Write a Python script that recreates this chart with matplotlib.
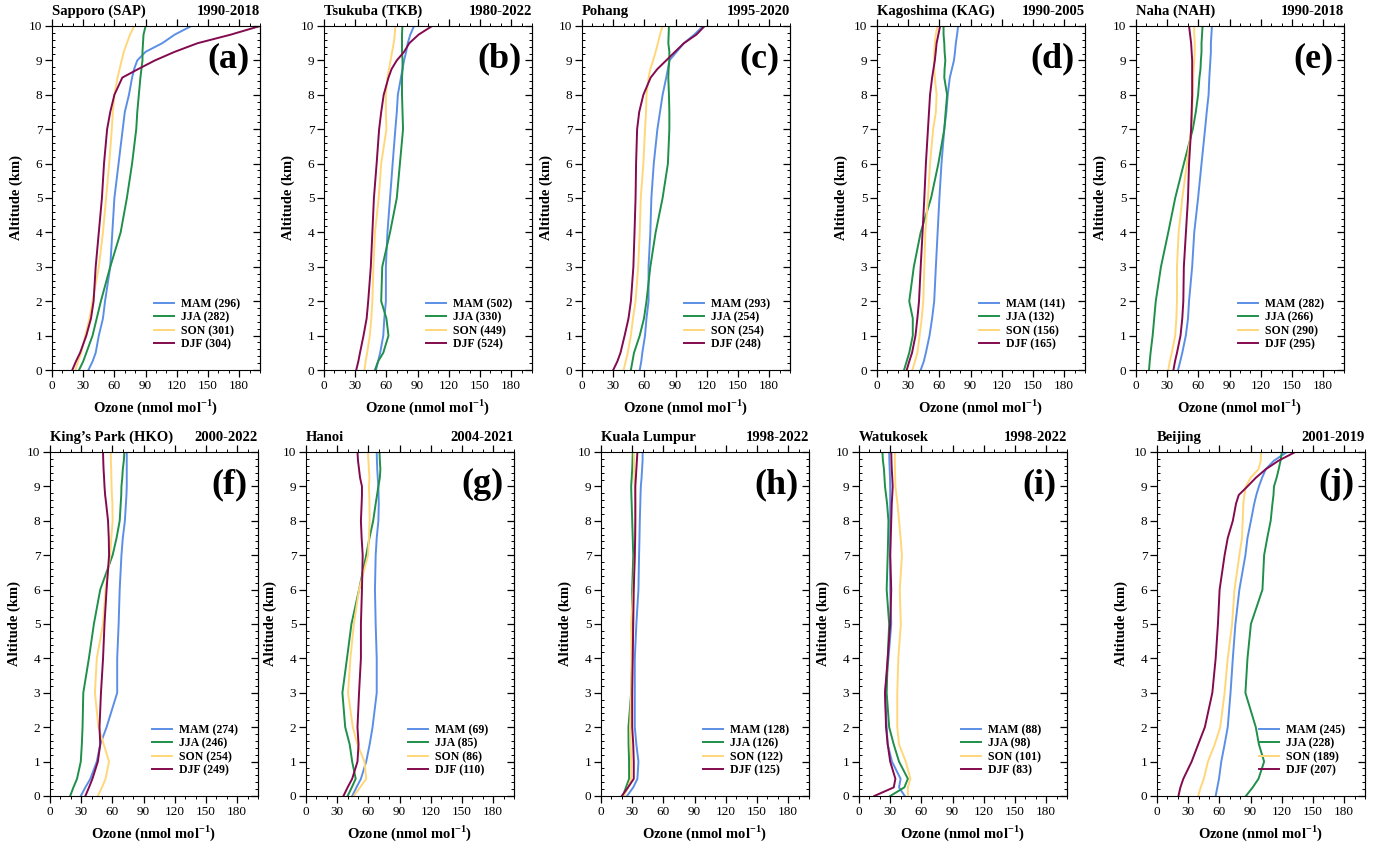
import matplotlib.pyplot as plt
from matplotlib.ticker import MultipleLocator, NullFormatter

plt.rcParams["font.family"] = ["Liberation Serif", "DejaVu Serif"]
plt.rcParams["mathtext.fontset"] = "custom"
plt.rcParams["mathtext.rm"] = "Liberation Serif"
plt.rcParams["mathtext.bf"] = "Liberation Serif:bold"

# altitude levels (km) at which profiles were read
ALT = [0, 0.25, 0.5, 1, 1.5, 2, 3, 4, 5, 6, 7, 7.5, 8, 8.5, 8.75, 9, 9.25, 9.5, 9.75, 10]

SEASONS = ["MAM", "JJA", "SON", "DJF"]
COLORS = ["#5B8FE6", "#1F8F4A", "#FFD77A", "#830A4E"]

# (a) Sapporo
sap_mam = [35, 39, 42, 45, 49, 51, 56, 58, 60, 64, 68, 70, 74, 77, 79, 82, 90, 106, 118, 134]
sap_jja = [26, 30, 33, 39, 43, 47, 56, 66, 72, 77, 81, 82, 83.5, 85, 86, 87, 87, 87.5, 88, 90]
sap_son = [22.5, 25, 28, 32, 36, 39, 45, 49, 52, 55, 57.5, 58.5, 60, 63, 65, 67, 69, 72, 75, 79]
sap_djf = [19.5, 23, 27, 33, 37.5, 40, 42, 45, 48, 50, 53, 56, 60, 67.6, 83, 99, 118, 140, 172, 200]
sap_n = [296, 282, 301, 304]

# (b) Tsukuba
tkb_mam = [50, 52, 54, 57, 58, 59.5, 59.5, 61, 63.5, 66, 68.6, 70, 71, 74, 75.5, 77, 79, 80.5, 83, 86.6]
tkb_jja = [49, 52, 57, 62, 60, 55, 56, 63.5, 70, 73, 76, 75.5, 75, 75, 75.5, 75.5, 75, 75, 75, 75.4]
tkb_son = [39, 40, 41.5, 44, 45.5, 46.5, 47.5, 49, 52.6, 55, 60, 59.5, 59.5, 61, 62.5, 64, 65.5, 67, 68, 68.6]
tkb_djf = [31, 33, 34.6, 38, 41, 42.5, 45, 46.5, 48, 50.6, 53, 55, 57.4, 62, 65, 70, 77, 82, 91, 104]
tkb_n = [502, 330, 449, 524]

# (c) Pohang
poh_mam = [55.5, 57, 58, 60.6, 62, 64, 64, 65.7, 66.7, 69, 72.5, 75, 77.5, 81, 82.6, 84, 91, 98, 108, 116.5]
poh_jja = [47, 48.5, 50, 55.5, 59.6, 62, 65.7, 70.8, 77.5, 82.6, 84, 84, 83.6, 83, 83.3, 84, 84, 83, 83.3, 83.6]
poh_son = [40, 42, 44, 47, 49, 51.5, 54, 55.5, 56.5, 59, 60.6, 61.6, 62, 64, 65.7, 68.4, 70.8, 73, 75, 77.5]
poh_djf = [30, 34, 37, 41, 44.7, 47, 49.4, 50.5, 51.5, 52, 53, 55, 59, 66, 72.5, 81, 89.4, 98, 110, 118]
poh_n = [293, 254, 254, 248]

# (d) Kagoshima
kag_mam = [42, 45, 47, 50.5, 53, 55, 56.6, 58.3, 60, 62, 64.7, 66.7, 68, 70, 72, 74, 75, 75.8, 77, 78]
kag_jja = [26, 28.5, 31, 34.4, 34.4, 31, 35.4, 42, 52, 59, 64.7, 66, 67.4, 64.7, 65, 65.7, 65, 64.7, 64, 64]
kag_son = [34, 36.5, 38.8, 41, 43, 44.5, 45.5, 46.5, 49, 51, 54, 56.6, 57.3, 55.6, 55, 55, 55, 55.6, 56.5, 58.3]
kag_djf = [28.6, 31, 33.7, 37, 38.8, 40.4, 42, 43.8, 45.5, 47, 49, 50, 51, 53, 54.3, 55.6, 56.5, 57.3, 59, 60.7]
kag_n = [141, 132, 156, 165]

# (e) Naha
nah_mam = [40.4, 42.5, 44.5, 47.9, 50, 51, 54, 56, 59.7, 63, 66.4, 68, 69.8, 70.5, 71, 71.5, 72, 72, 72.5, 73]
nah_jja = [12.5, 13.2, 14, 16, 17.5, 19, 24, 31, 37.7, 46, 54.6, 57.5, 59.7, 61, 62, 62.4, 63, 63, 63.5, 64]
nah_son = [31, 32.5, 34.4, 37.7, 38.8, 39.4, 39.4, 41, 44.5, 49, 53, 54, 54.6, 55, 55.5, 56, 56.5, 56.5, 56, 56]
nah_djf = [36, 37.5, 39.4, 42.8, 44.5, 45.5, 46, 48, 50, 51, 53, 53.5, 54, 54, 54, 54, 53.5, 53, 52, 51]
nah_n = [282, 266, 290, 295]

# (f) King's Park
hko_mam = [29.6, 34, 38.8, 45, 48.3, 54.4, 64.6, 64.6, 66, 67, 68.7, 70, 72, 73, 73.5, 73.8, 73.8, 73.8, 73.8, 73.8]
hko_jja = [19.4, 22.5, 26, 29.6, 30.6, 31.3, 32, 37.4, 42.2, 48.3, 60.2, 64, 67, 68, 68.5, 68.7, 69.5, 70, 71, 71.5]
hko_son = [46, 50, 53.4, 56.8, 51.7, 46.6, 43.2, 45, 51, 53.4, 57.8, 59, 60.2, 60, 59.5, 59.2, 59, 58.8, 58.5, 58.5]
hko_djf = [34, 37.5, 40.8, 46, 48.3, 47.6, 49, 51, 52.4, 54.4, 56.8, 56.5, 55.8, 54, 53, 52.4, 52, 51.5, 51.2, 51]
hko_n = [274, 246, 254, 249]

# (g) Hanoi
han_mam = [44.4, 48.5, 52.8, 57.9, 61.2, 64, 68, 68, 67, 66.3, 67, 68, 69.6, 70, 69.8, 69.6, 69, 68.5, 68.2, 68]
han_jja = [40, 44, 47.8, 44.4, 42, 37.7, 35, 39.4, 43.7, 51, 57.9, 61, 64.6, 67, 68.3, 69.6, 71, 71.5, 71, 70.7]
han_son = [46, 52, 57.9, 56.2, 49.5, 45, 40.4, 42.7, 46, 51, 59.6, 60.5, 61.2, 61, 60.8, 60.5, 61, 60.5, 60, 59.6]
han_djf = [36, 40, 44.4, 49.5, 50.5, 49.5, 51, 52.8, 52.8, 53.8, 54.5, 53.5, 52.8, 53.5, 53.8, 53.8, 52, 51, 50, 49.5]
han_n = [69, 85, 86, 110]

# (h) Kuala Lumpur
kul_mam = [25, 31, 35, 36, 34, 32.5, 32.5, 32.5, 34, 36, 36.6, 37, 37.3, 37.8, 38, 38.3, 39, 39.5, 40, 40]
kul_jja = [21, 24, 27, 27, 26.5, 26.4, 29, 30, 30, 30, 31, 30.5, 30, 29.5, 29.2, 29, 29.5, 30, 30.3, 30.5]
kul_son = [22, 26, 29, 29, 28.5, 28, 29, 29.5, 29, 31, 32.5, 33, 33, 33, 32.8, 32.5, 32, 32, 31.8, 31.5]
kul_djf = [20, 26, 31.5, 31.5, 31, 30, 30, 30.5, 31, 31.5, 32.5, 32.8, 33, 33, 33, 33, 33.5, 34, 34.5, 35]
kul_n = [128, 126, 122, 125]

# (i) Watukosek
wat_mam = [44, 38.5, 40, 31.7, 27.6, 26.6, 25, 28.3, 31, 30, 30, 30, 30, 30, 30, 30, 29.8, 29.5, 29.2, 29]
wat_jja = [30, 43.6, 47, 38.5, 33.4, 29, 26.6, 27.6, 29, 26.6, 27.6, 28, 28.3, 27, 26, 25, 24.5, 24, 23, 22.5]
wat_son = [47, 47, 49.4, 45, 38.5, 36.8, 36.8, 37.8, 40.2, 39.2, 41.3, 40, 38.5, 37, 36, 35, 34.8, 34.6, 34.5, 34.4]
wat_djf = [14.7, 33.4, 35, 30, 27.6, 26, 25, 27.6, 30, 31, 30, 30.5, 31, 31.5, 32, 32.4, 32, 31.5, 31.2, 31]
wat_n = [88, 98, 101, 83]

# (j) Beijing
bej_mam = [56.4, 58, 59.6, 61.8, 65, 68, 70.7, 72.9, 75.4, 79.2, 85, 87, 90.3, 93.5, 95.5, 98, 101, 104.6, 112.5, 125]
bej_jja = [85.5, 92, 97.6, 103, 98, 95, 85, 87, 90.3, 101.4, 103, 106, 109.3, 111, 112, 112.5, 115, 117, 118.8, 120]
bej_son = [39.6, 42, 45, 49, 55.5, 60.8, 65, 68, 72.2, 74.5, 79.2, 81.7, 82.4, 83, 84, 85.5, 90, 97.6, 99.8, 100]
bej_djf = [20.6, 22.5, 25.3, 33.3, 39.6, 46, 53.2, 56.4, 58.6, 60.2, 65, 68, 72.9, 76, 78.6, 87, 95, 104.6, 117, 133]
bej_n = [245, 228, 189, 207]

STATIONS = ["Sapporo (SAP)", "Tsukuba (TKB)", "Pohang", "Kagoshima (KAG)", "Naha (NAH)",
            "King\u2019s Park (HKO)", "Hanoi", "Kuala Lumpur", "Watukosek", "Beijing"]
PERIODS = ["1990-2018", "1980-2022", "1995-2020", "1990-2005", "1990-2018",
           "2000-2022", "2004-2021", "1998-2022", "1998-2022", "2001-2019"]
LETTERS = ["(a)", "(b)", "(c)", "(d)", "(e)", "(f)", "(g)", "(h)", "(i)", "(j)"]

PROFILES = [
    [sap_mam, sap_jja, sap_son, sap_djf],
    [tkb_mam, tkb_jja, tkb_son, tkb_djf],
    [poh_mam, poh_jja, poh_son, poh_djf],
    [kag_mam, kag_jja, kag_son, kag_djf],
    [nah_mam, nah_jja, nah_son, nah_djf],
    [hko_mam, hko_jja, hko_son, hko_djf],
    [han_mam, han_jja, han_son, han_djf],
    [kul_mam, kul_jja, kul_son, kul_djf],
    [wat_mam, wat_jja, wat_son, wat_djf],
    [bej_mam, bej_jja, bej_son, bej_djf],
]
COUNTS = [sap_n, tkb_n, poh_n, kag_n, nah_n, hko_n, han_n, kul_n, wat_n, bej_n]

W, H = 1376, 848
LEFTS = [52, 324, 582, 877, 1136, 50, 306, 601, 859, 1157]
TOPS = [26] * 5 + [452] * 5
AX_W, AX_H = 208, 344


def draw_panel(ax, i):
    for prof, season, n, color in zip(PROFILES[i], SEASONS, COUNTS[i], COLORS):
        ax.plot(prof, ALT, color=color, lw=1.4, label=f"{season} ({n})")
    ax.set_xlim(0, 200)
    ax.set_ylim(0, 10)
    ax.set_xticks(range(0, 181, 30))
    ax.xaxis.set_minor_locator(MultipleLocator(10))
    ax.yaxis.set_major_locator(MultipleLocator(1))
    ax.yaxis.set_minor_locator(MultipleLocator(0.2))
    ax.tick_params(axis="x", which="both", direction="out", top=True, labelsize=9.5, pad=2)
    ax.tick_params(axis="x", which="major", length=5, width=0.9)
    ax.tick_params(axis="x", which="minor", length=2.5, width=0.7)
    ax.tick_params(axis="y", which="major", direction="out", length=5, width=0.9,
                   right=False, labelsize=9.5, pad=2)
    ax.tick_params(axis="y", which="minor", direction="in", length=2.5, width=0.7, right=False)

    # right-hand ticks all point inward
    sec = ax.secondary_yaxis("right")
    sec.yaxis.set_major_locator(MultipleLocator(1))
    sec.yaxis.set_minor_locator(MultipleLocator(0.2))
    sec.yaxis.set_major_formatter(NullFormatter())
    sec.tick_params(which="both", direction="in")
    sec.tick_params(which="major", length=5, width=0.9)
    sec.tick_params(which="minor", length=2.5, width=0.7)

    ax.set_xlabel(r"Ozone (nmol mol$^{\mathbf{-1}}$)", fontsize=10.5, fontweight="bold", labelpad=4)
    ax.set_ylabel("Altitude (km)", fontsize=10.5, fontweight="bold", labelpad=4)
    ax.set_title(STATIONS[i], loc="left", fontsize=10.5, fontweight="bold", pad=8)
    ax.set_title(PERIODS[i], loc="right", fontsize=10.5, fontweight="bold", pad=8)
    ax.text(0.95, 0.905, LETTERS[i], transform=ax.transAxes, ha="right", va="center",
            fontsize=26, fontweight="bold")
    ax.legend(loc="center left", bbox_to_anchor=(0.46, 0.133), frameon=False,
              prop={"weight": "bold", "size": 8.5}, handlelength=1.7, handletextpad=0.6,
              labelspacing=0.12, borderpad=0)


def main():
    fig = plt.figure(figsize=(W / 100, H / 100), dpi=100)
    for i in range(10):
        rect = [LEFTS[i] / W, 1 - (TOPS[i] + AX_H) / H, AX_W / W, AX_H / H]
        ax = fig.add_axes(rect)
        draw_panel(ax, i)
    fig.savefig("out.png", dpi=100)


if __name__ == "__main__":
    main()
